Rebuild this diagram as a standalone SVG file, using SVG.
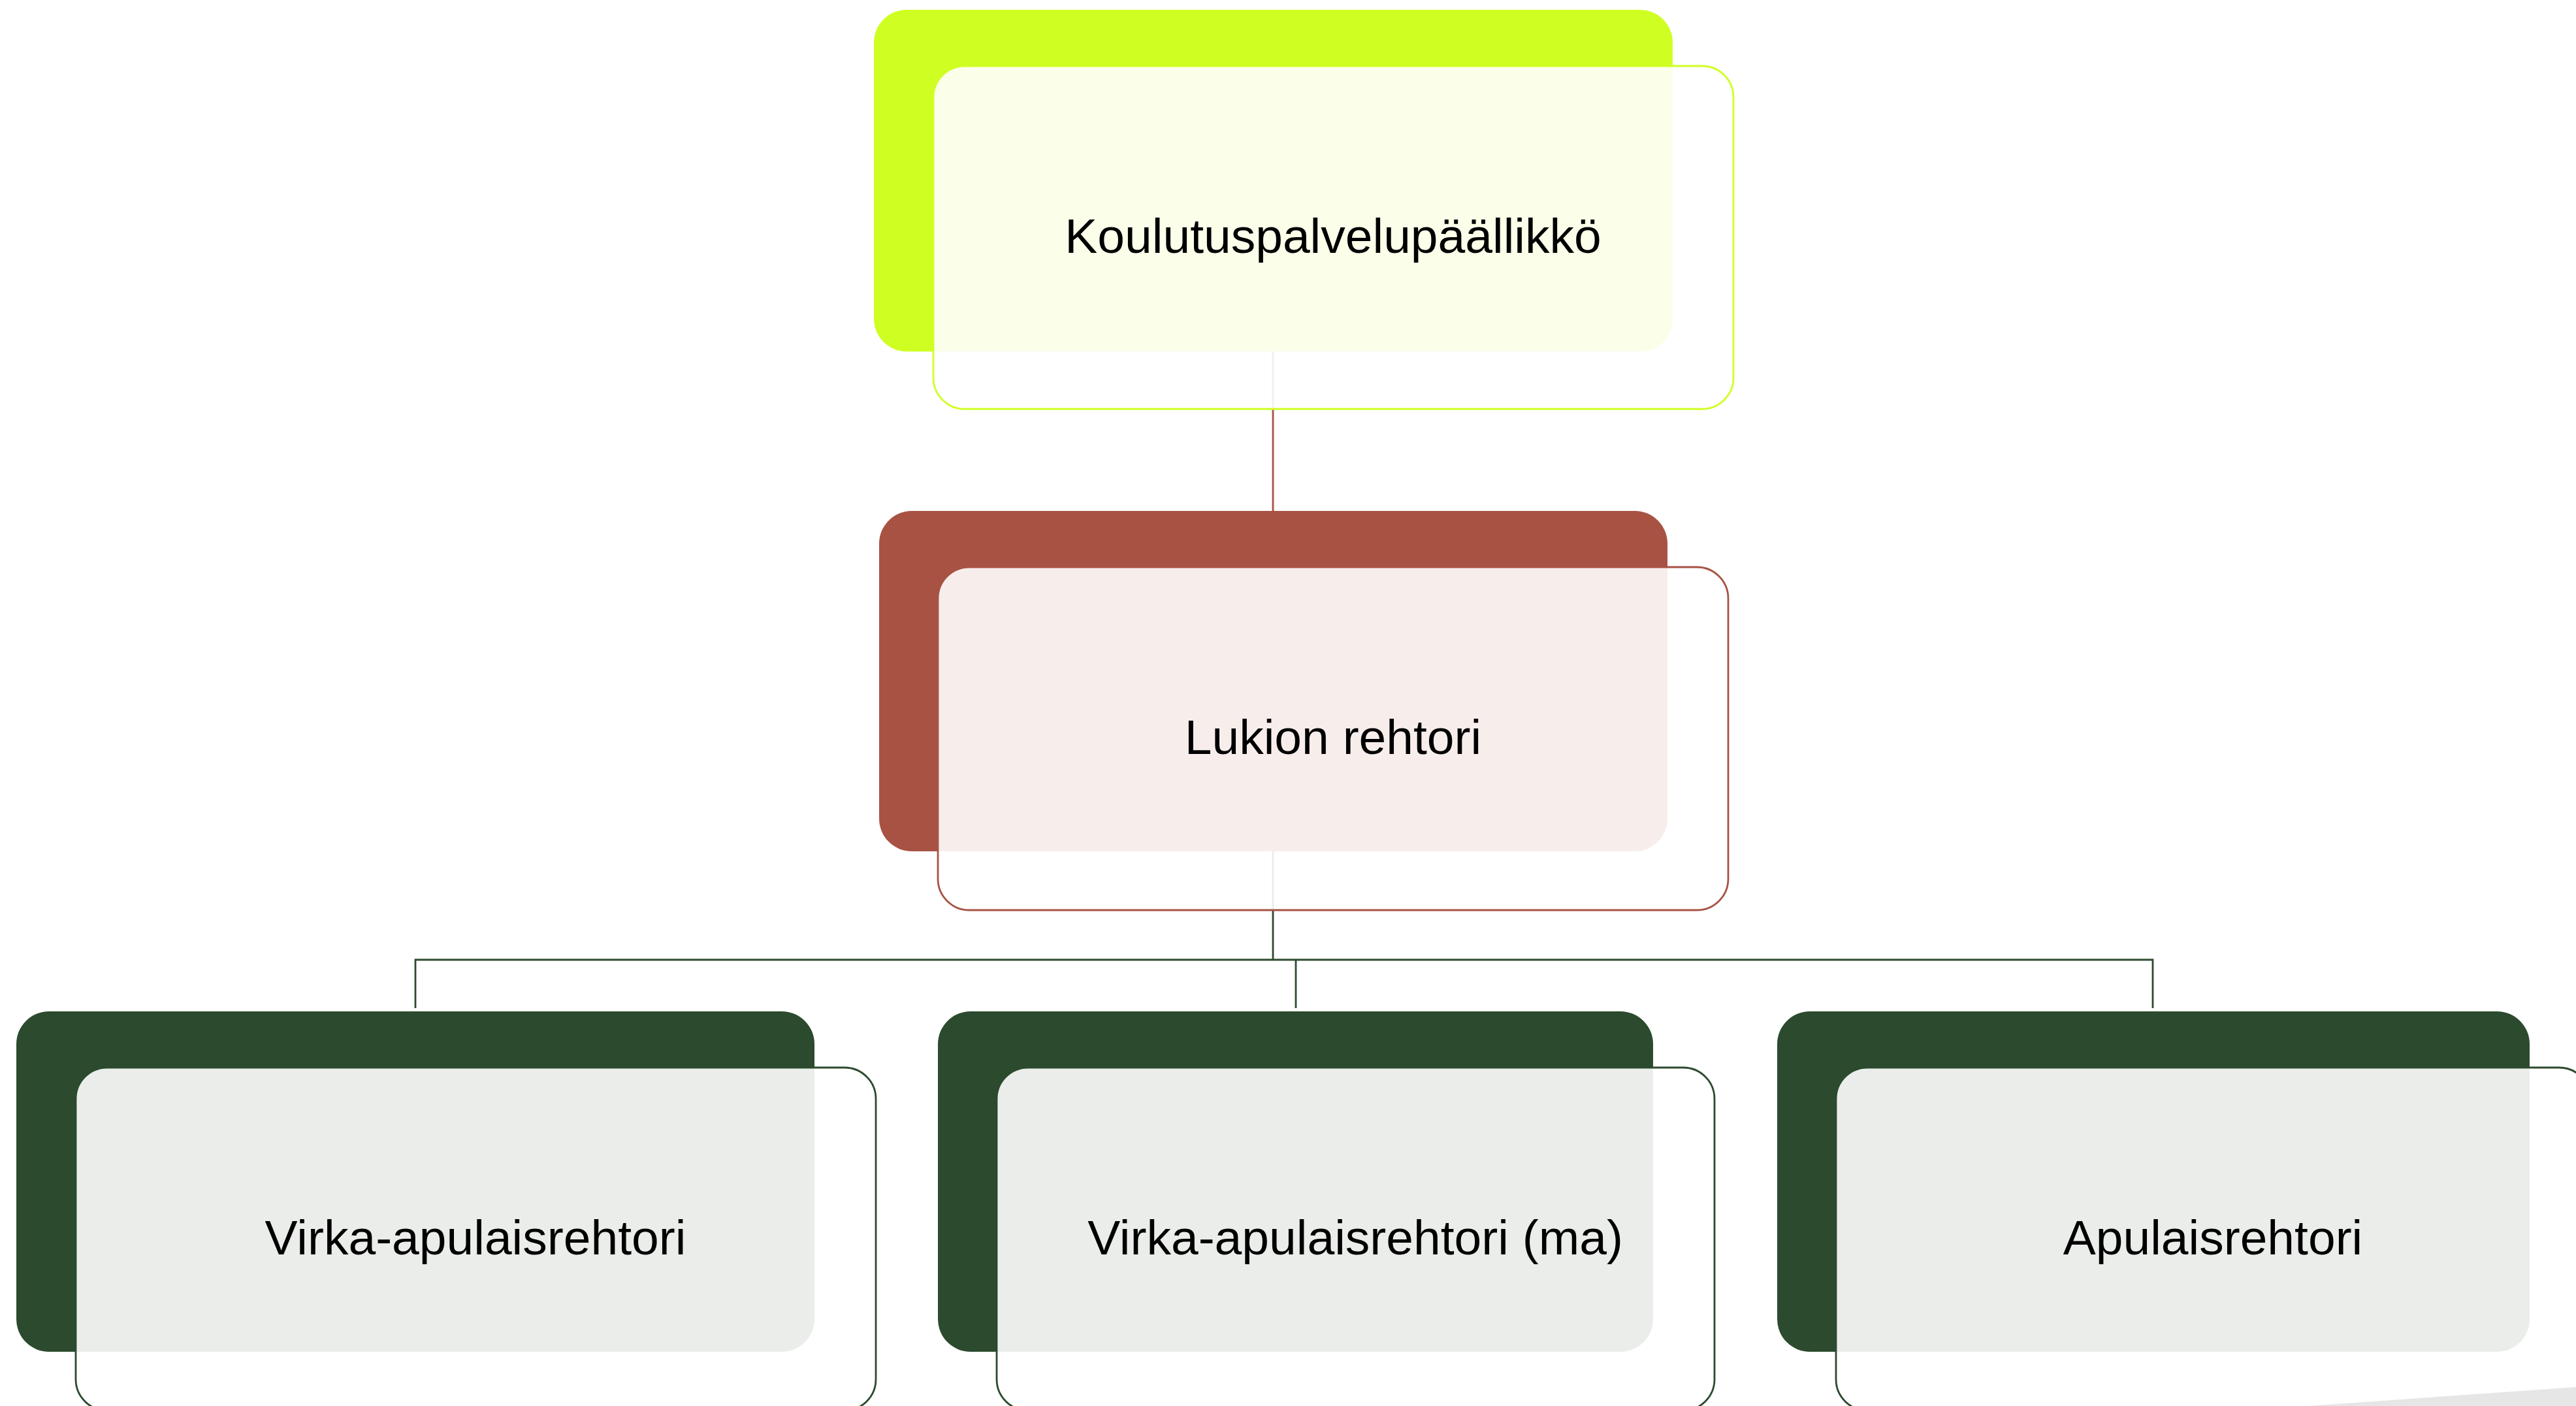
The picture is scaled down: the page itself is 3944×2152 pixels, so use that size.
<svg xmlns="http://www.w3.org/2000/svg" width="3944" height="2152" viewBox="0 0 3944 2152">
<style>
.lbl{font-family:"Liberation Sans",Arial,sans-serif;font-size:75px;fill:#000;text-anchor:middle}
.front{fill:#fff;fill-opacity:0.9;stroke-width:2.8}
.c1{fill:#CFFF22}.s1{stroke:#CFFF22}
.c2{fill:#A85244}.s2{stroke:#A85244}
.c3{fill:#2C4A2E}.s3{stroke:#2C4A2E}
.conn{fill:none;stroke-width:2.8}
</style>
<rect width="3944" height="2152" fill="#fff"/>
<g id="connectors">
<line class="conn s2" x1="1949" y1="538" x2="1949" y2="782"/>
<polyline class="conn s3" points="1949,1303 1949,1469"/>
<polyline class="conn s3" points="636,1543 636,1469 3296,1469 3296,1543"/>
<line class="conn s3" x1="1984" y1="1469" x2="1984" y2="1543"/>
</g>
<g id="node-koulutuspalvelupaallikko">
<rect class="c1" x="1338" y="15" width="1223" height="523" rx="50" ry="50"/>
<rect class="front s1" x="1429" y="101" width="1225" height="525" rx="48" ry="48"/>
<text class="lbl" x="2041" y="387">Koulutuspalvelupäällikkö</text>
</g>
<g id="node-lukion-rehtori">
<rect class="c2" x="1346" y="782" width="1207" height="521" rx="50" ry="50"/>
<rect class="front s2" x="1436" y="868" width="1210" height="525" rx="48" ry="48"/>
<text class="lbl" x="2041" y="1154">Lukion rehtori</text>
</g>
<g id="node-virka-apulaisrehtori">
<rect class="c3" x="25" y="1548" width="1222" height="521" rx="50" ry="50"/>
<rect class="front s3" x="116" y="1634" width="1225" height="525" rx="48" ry="48"/>
<text class="lbl" x="728" y="1920">Virka-apulaisrehtori</text>
</g>
<g id="node-virka-apulaisrehtori-ma">
<rect class="c3" x="1436" y="1548" width="1095" height="521" rx="50" ry="50"/>
<rect class="front s3" x="1526" y="1634" width="1099" height="525" rx="48" ry="48"/>
<text class="lbl" x="2075" y="1920">Virka-apulaisrehtori (ma)</text>
</g>
<g id="node-apulaisrehtori">
<rect class="c3" x="2721" y="1548" width="1152" height="521" rx="50" ry="50"/>
<rect class="front s3" x="2811" y="1634" width="1155" height="525" rx="48" ry="48"/>
<text class="lbl" x="3388" y="1920">Apulaisrehtori</text>
</g>
<polygon points="3533,2152 3944,2123 3944,2152" fill="#E6E6E6"/>
</svg>
